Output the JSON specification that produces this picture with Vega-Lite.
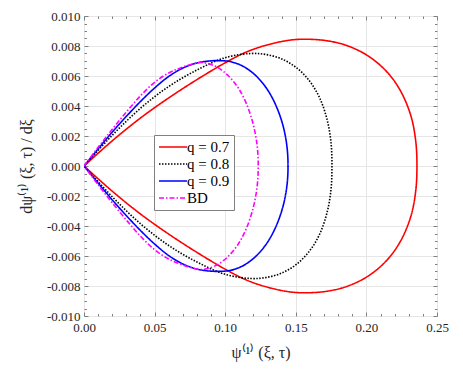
{
  "$schema": "https://vega.github.io/schema/vega-lite/v6.json",
  "width": 353,
  "height": 300,
  "autosize": {"type": "none"},
  "padding": {"left": 84, "top": 16, "right": 26, "bottom": 55},
  "background": "white",
  "config": {
    "font": "Liberation Serif, Times New Roman, serif",
    "view": {"stroke": "#808080", "strokeWidth": 1},
    "axis": {"labelFont": "Liberation Serif, Times New Roman, serif", "titleFont": "Liberation Serif, Times New Roman, serif", "labelColor": "#262626", "titleColor": "#262626", "titleFontWeight": "normal", "labelFontSize": 13, "titleFontSize": 16, "labelFlush": false},
    "legend": {"labelFont": "Liberation Serif, Times New Roman, serif"}
  },
  "data": {"values": [
    {"s":"q = 0.7","i":0,"x":0,"y":0},
    {"s":"q = 0.7","i":1,"x":0.02,"y":0.00168},
    {"s":"q = 0.7","i":2,"x":0.04,"y":0.0032},
    {"s":"q = 0.7","i":3,"x":0.06,"y":0.00454},
    {"s":"q = 0.7","i":4,"x":0.08,"y":0.00576},
    {"s":"q = 0.7","i":5,"x":0.1,"y":0.00688},
    {"s":"q = 0.7","i":6,"x":0.115,"y":0.0076},
    {"s":"q = 0.7","i":7,"x":0.13,"y":0.00808},
    {"s":"q = 0.7","i":8,"x":0.145,"y":0.00838},
    {"s":"q = 0.7","i":9,"x":0.155,"y":0.00845},
    {"s":"q = 0.7","i":10,"x":0.1706,"y":0.00837},
    {"s":"q = 0.7","i":11,"x":0.1861,"y":0.00803},
    {"s":"q = 0.7","i":12,"x":0.201,"y":0.00735},
    {"s":"q = 0.7","i":13,"x":0.2139,"y":0.00634},
    {"s":"q = 0.7","i":14,"x":0.2238,"y":0.00507},
    {"s":"q = 0.7","i":15,"x":0.2314,"y":0.00338},
    {"s":"q = 0.7","i":16,"x":0.2349,"y":0.00169},
    {"s":"q = 0.7","i":17,"x":0.2358,"y":0},
    {"s":"q = 0.7","i":18,"x":0.2349,"y":-0.00169},
    {"s":"q = 0.7","i":19,"x":0.2314,"y":-0.00338},
    {"s":"q = 0.7","i":20,"x":0.2238,"y":-0.00507},
    {"s":"q = 0.7","i":21,"x":0.2139,"y":-0.00634},
    {"s":"q = 0.7","i":22,"x":0.201,"y":-0.00735},
    {"s":"q = 0.7","i":23,"x":0.1861,"y":-0.00803},
    {"s":"q = 0.7","i":24,"x":0.1706,"y":-0.00837},
    {"s":"q = 0.7","i":25,"x":0.155,"y":-0.00845},
    {"s":"q = 0.7","i":26,"x":0.145,"y":-0.00838},
    {"s":"q = 0.7","i":27,"x":0.13,"y":-0.00808},
    {"s":"q = 0.7","i":28,"x":0.115,"y":-0.0076},
    {"s":"q = 0.7","i":29,"x":0.1,"y":-0.00688},
    {"s":"q = 0.7","i":30,"x":0.08,"y":-0.00576},
    {"s":"q = 0.7","i":31,"x":0.06,"y":-0.00454},
    {"s":"q = 0.7","i":32,"x":0.04,"y":-0.0032},
    {"s":"q = 0.7","i":33,"x":0.02,"y":-0.00168},
    {"s":"q = 0.7","i":34,"x":0,"y":0},

    {"s":"q = 0.8","i":0,"x":0,"y":0},
    {"s":"q = 0.8","i":1,"x":0.02,"y":0.00205},
    {"s":"q = 0.8","i":2,"x":0.04,"y":0.00385},
    {"s":"q = 0.8","i":3,"x":0.06,"y":0.0053},
    {"s":"q = 0.8","i":4,"x":0.08,"y":0.0064},
    {"s":"q = 0.8","i":5,"x":0.1,"y":0.00722},
    {"s":"q = 0.8","i":6,"x":0.118,"y":0.0075},
    {"s":"q = 0.8","i":7,"x":0.1291,"y":0.00743},
    {"s":"q = 0.8","i":8,"x":0.1402,"y":0.00713},
    {"s":"q = 0.8","i":9,"x":0.1508,"y":0.00653},
    {"s":"q = 0.8","i":10,"x":0.16,"y":0.00563},
    {"s":"q = 0.8","i":11,"x":0.1671,"y":0.0045},
    {"s":"q = 0.8","i":12,"x":0.1724,"y":0.003},
    {"s":"q = 0.8","i":13,"x":0.175,"y":0.0015},
    {"s":"q = 0.8","i":14,"x":0.1756,"y":0},
    {"s":"q = 0.8","i":15,"x":0.175,"y":-0.0015},
    {"s":"q = 0.8","i":16,"x":0.1724,"y":-0.003},
    {"s":"q = 0.8","i":17,"x":0.1671,"y":-0.0045},
    {"s":"q = 0.8","i":18,"x":0.16,"y":-0.00563},
    {"s":"q = 0.8","i":19,"x":0.1508,"y":-0.00653},
    {"s":"q = 0.8","i":20,"x":0.1402,"y":-0.00713},
    {"s":"q = 0.8","i":21,"x":0.1291,"y":-0.00743},
    {"s":"q = 0.8","i":22,"x":0.118,"y":-0.0075},
    {"s":"q = 0.8","i":23,"x":0.1,"y":-0.00722},
    {"s":"q = 0.8","i":24,"x":0.08,"y":-0.0064},
    {"s":"q = 0.8","i":25,"x":0.06,"y":-0.0053},
    {"s":"q = 0.8","i":26,"x":0.04,"y":-0.00385},
    {"s":"q = 0.8","i":27,"x":0.02,"y":-0.00205},
    {"s":"q = 0.8","i":28,"x":0,"y":0},

    {"s":"q = 0.9","i":0,"x":0,"y":0},
    {"s":"q = 0.9","i":1,"x":0.02,"y":0.00226},
    {"s":"q = 0.9","i":2,"x":0.03,"y":0.00331},
    {"s":"q = 0.9","i":3,"x":0.04,"y":0.0043},
    {"s":"q = 0.9","i":4,"x":0.05,"y":0.0052},
    {"s":"q = 0.9","i":5,"x":0.06,"y":0.00597},
    {"s":"q = 0.9","i":6,"x":0.07,"y":0.00653},
    {"s":"q = 0.9","i":7,"x":0.08,"y":0.00687},
    {"s":"q = 0.9","i":8,"x":0.09,"y":0.00701},
    {"s":"q = 0.9","i":9,"x":0.0975,"y":0.00702},
    {"s":"q = 0.9","i":10,"x":0.1041,"y":0.00695},
    {"s":"q = 0.9","i":11,"x":0.1122,"y":0.00667},
    {"s":"q = 0.9","i":12,"x":0.1207,"y":0.00611},
    {"s":"q = 0.9","i":13,"x":0.1286,"y":0.00527},
    {"s":"q = 0.9","i":14,"x":0.1351,"y":0.00421},
    {"s":"q = 0.9","i":15,"x":0.1406,"y":0.00281},
    {"s":"q = 0.9","i":16,"x":0.1436,"y":0.0014},
    {"s":"q = 0.9","i":17,"x":0.1445,"y":0},
    {"s":"q = 0.9","i":18,"x":0.1436,"y":-0.0014},
    {"s":"q = 0.9","i":19,"x":0.1406,"y":-0.00281},
    {"s":"q = 0.9","i":20,"x":0.1351,"y":-0.00421},
    {"s":"q = 0.9","i":21,"x":0.1286,"y":-0.00527},
    {"s":"q = 0.9","i":22,"x":0.1207,"y":-0.00611},
    {"s":"q = 0.9","i":23,"x":0.1122,"y":-0.00667},
    {"s":"q = 0.9","i":24,"x":0.1041,"y":-0.00695},
    {"s":"q = 0.9","i":25,"x":0.0975,"y":-0.00702},
    {"s":"q = 0.9","i":26,"x":0.09,"y":-0.00701},
    {"s":"q = 0.9","i":27,"x":0.08,"y":-0.00687},
    {"s":"q = 0.9","i":28,"x":0.07,"y":-0.00653},
    {"s":"q = 0.9","i":29,"x":0.06,"y":-0.00597},
    {"s":"q = 0.9","i":30,"x":0.05,"y":-0.0052},
    {"s":"q = 0.9","i":31,"x":0.04,"y":-0.0043},
    {"s":"q = 0.9","i":32,"x":0.03,"y":-0.00331},
    {"s":"q = 0.9","i":33,"x":0.02,"y":-0.00226},
    {"s":"q = 0.9","i":34,"x":0,"y":0},

    {"s":"BD","i":0,"x":0,"y":0},
    {"s":"BD","i":1,"x":0.01,"y":0.00125},
    {"s":"BD","i":2,"x":0.02,"y":0.00245},
    {"s":"BD","i":3,"x":0.03,"y":0.0036},
    {"s":"BD","i":4,"x":0.04,"y":0.00468},
    {"s":"BD","i":5,"x":0.05,"y":0.00558},
    {"s":"BD","i":6,"x":0.06,"y":0.0062},
    {"s":"BD","i":7,"x":0.07,"y":0.0066},
    {"s":"BD","i":8,"x":0.082,"y":0.0069},
    {"s":"BD","i":9,"x":0.0878,"y":0.00683},
    {"s":"BD","i":10,"x":0.0949,"y":0.00656},
    {"s":"BD","i":11,"x":0.1024,"y":0.006},
    {"s":"BD","i":12,"x":0.1094,"y":0.00518},
    {"s":"BD","i":13,"x":0.1151,"y":0.00414},
    {"s":"BD","i":14,"x":0.1199,"y":0.00276},
    {"s":"BD","i":15,"x":0.1226,"y":0.00138},
    {"s":"BD","i":16,"x":0.1234,"y":0},
    {"s":"BD","i":17,"x":0.1226,"y":-0.00138},
    {"s":"BD","i":18,"x":0.1199,"y":-0.00276},
    {"s":"BD","i":19,"x":0.1151,"y":-0.00414},
    {"s":"BD","i":20,"x":0.1094,"y":-0.00518},
    {"s":"BD","i":21,"x":0.1024,"y":-0.006},
    {"s":"BD","i":22,"x":0.0949,"y":-0.00656},
    {"s":"BD","i":23,"x":0.0878,"y":-0.00683},
    {"s":"BD","i":24,"x":0.082,"y":-0.0069},
    {"s":"BD","i":25,"x":0.07,"y":-0.0066},
    {"s":"BD","i":26,"x":0.06,"y":-0.0062},
    {"s":"BD","i":27,"x":0.05,"y":-0.00558},
    {"s":"BD","i":28,"x":0.04,"y":-0.00468},
    {"s":"BD","i":29,"x":0.03,"y":-0.0036},
    {"s":"BD","i":30,"x":0.02,"y":-0.00245},
    {"s":"BD","i":31,"x":0.01,"y":-0.00125},
    {"s":"BD","i":32,"x":0,"y":0}
  ]},
  "layer": [
    {
      "mark": {"type": "line", "interpolate": "catmull-rom", "strokeWidth": 1.6, "clip": true},
      "encoding": {
        "x": {"field": "x", "type": "quantitative", "scale": {"domain": [0, 0.25], "nice": false, "zero": false},
          "axis": {"orient": "bottom", "values": [0, 0.05, 0.1, 0.15, 0.2, 0.25], "format": ".2f", "ticks": false, "domain": false, "grid": true, "gridColor": "#e6e6e6", "gridWidth": 1, "labelPadding": 5, "title": "ψ⁽¹⁾ (ξ, τ)", "titlePadding": 10}},
        "y": {"field": "y", "type": "quantitative", "scale": {"domain": [-0.01, 0.01], "nice": false, "zero": false},
          "axis": {"orient": "left", "values": [-0.01, -0.008, -0.006, -0.004, -0.002, 0, 0.002, 0.004, 0.006, 0.008, 0.01], "labelExpr": "replace(format(datum.value, '.3f'), '−', '-')", "ticks": false, "domain": false, "grid": true, "gridColor": "#e6e6e6", "gridWidth": 1, "labelPadding": 4, "title": "dψ⁽¹⁾ (ξ, τ) / dξ", "titlePadding": 12}},
        "order": {"field": "i", "type": "quantitative"},
        "color": {"field": "s", "type": "nominal", "scale": {"domain": ["q = 0.7", "q = 0.8", "q = 0.9", "BD"], "range": ["#ff0000", "#000000", "#0000ff", "#ff00ff"]},
          "legend": {"orient": "none", "legendX": 70, "legendY": 119, "title": null, "symbolType": "M-1,0H3", "symbolSize": 196, "symbolStrokeWidth": 1.5, "labelFontSize": 15, "labelColor": "#000000", "strokeColor": "#808080", "fillColor": "white", "padding": 4, "rowPadding": 1, "labelOffset": 13}},
        "strokeDash": {"field": "s", "type": "nominal", "scale": {"domain": ["q = 0.7", "q = 0.8", "q = 0.9", "BD"], "range": [[1, 0], [1.5, 1.5], [1, 0], [5, 2, 1.5, 2]]},
          "legend": {"orient": "none", "legendX": 70, "legendY": 119, "title": null, "symbolType": "M-1,0H3", "symbolSize": 196, "symbolStrokeWidth": 1.5, "labelFontSize": 15, "labelColor": "#000000", "strokeColor": "#808080", "fillColor": "white", "padding": 4, "rowPadding": 1, "labelOffset": 13}}
      }
    },
    {
      "mark": {"type": "point", "opacity": 0},
      "encoding": {
        "x": {"field": "x", "type": "quantitative", "axis": {"orient": "bottom", "offset": -4, "values": [0, 0.05, 0.1, 0.15, 0.2, 0.25], "labels": false, "grid": false, "domain": false, "tickSize": 4, "tickColor": "#808080", "title": null}},
        "y": {"field": "y", "type": "quantitative", "axis": {"orient": "left", "offset": -4, "values": [-0.01, -0.008, -0.006, -0.004, -0.002, 0, 0.002, 0.004, 0.006, 0.008, 0.01], "labels": false, "grid": false, "domain": false, "tickSize": 4, "tickColor": "#808080", "title": null}}
      }
    },
    {
      "mark": {"type": "point", "opacity": 0},
      "encoding": {
        "x": {"field": "x", "type": "quantitative", "axis": {"orient": "bottom", "offset": -2.5, "values": [0.01,0.02,0.03,0.04,0.06,0.07,0.08,0.09,0.11,0.12,0.13,0.14,0.16,0.17,0.18,0.19,0.21,0.22,0.23,0.24], "labels": false, "grid": false, "domain": false, "tickSize": 2.5, "tickColor": "#808080", "title": null}},
        "y": {"field": "y", "type": "quantitative", "axis": {"orient": "left", "offset": -2.5, "values": [-0.0095,-0.009,-0.0085,-0.0075,-0.007,-0.0065,-0.0055,-0.005,-0.0045,-0.0035,-0.003,-0.0025,-0.0015,-0.001,-0.0005,0.0005,0.001,0.0015,0.0025,0.003,0.0035,0.0045,0.005,0.0055,0.0065,0.007,0.0075,0.0085,0.009,0.0095], "labels": false, "grid": false, "domain": false, "tickSize": 2.5, "tickColor": "#808080", "title": null}}
      }
    },
    {
      "mark": {"type": "point", "opacity": 0},
      "encoding": {
        "x": {"field": "x", "type": "quantitative", "axis": {"orient": "top", "offset": -4, "values": [0, 0.05, 0.1, 0.15, 0.2, 0.25], "labels": false, "grid": false, "domain": false, "tickSize": 4, "tickColor": "#808080", "title": null}},
        "y": {"field": "y", "type": "quantitative", "axis": {"orient": "right", "offset": -4, "values": [-0.01, -0.008, -0.006, -0.004, -0.002, 0, 0.002, 0.004, 0.006, 0.008, 0.01], "labels": false, "grid": false, "domain": false, "tickSize": 4, "tickColor": "#808080", "title": null}}
      }
    },
    {
      "mark": {"type": "point", "opacity": 0},
      "encoding": {
        "x": {"field": "x", "type": "quantitative", "axis": {"orient": "top", "offset": -2.5, "values": [0.01,0.02,0.03,0.04,0.06,0.07,0.08,0.09,0.11,0.12,0.13,0.14,0.16,0.17,0.18,0.19,0.21,0.22,0.23,0.24], "labels": false, "grid": false, "domain": false, "tickSize": 2.5, "tickColor": "#808080", "title": null}},
        "y": {"field": "y", "type": "quantitative", "axis": {"orient": "right", "offset": -2.5, "values": [-0.0095,-0.009,-0.0085,-0.0075,-0.007,-0.0065,-0.0055,-0.005,-0.0045,-0.0035,-0.003,-0.0025,-0.0015,-0.001,-0.0005,0.0005,0.001,0.0015,0.0025,0.003,0.0035,0.0045,0.005,0.0055,0.0065,0.007,0.0075,0.0085,0.009,0.0095], "labels": false, "grid": false, "domain": false, "tickSize": 2.5, "tickColor": "#808080", "title": null}}
      }
    }
  ],
  "resolve": {"axis": {"x": "independent", "y": "independent"}}
}
